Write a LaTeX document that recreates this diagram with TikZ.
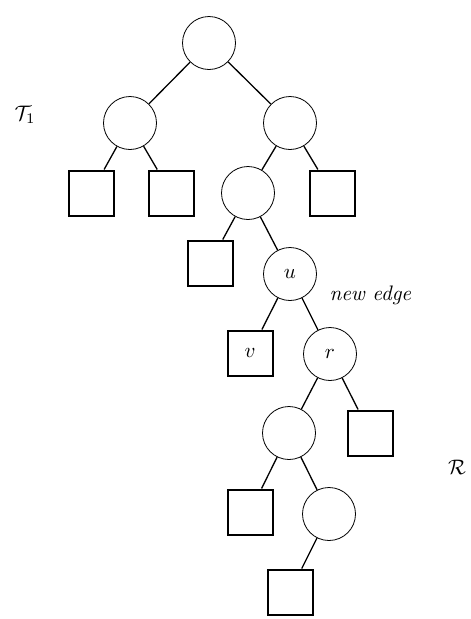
\documentclass[tikz,border=0pt]{standalone}
\newcommand{\bigtxt}[1]{\scalebox{2.1}{#1}}
\begin{document}
\begin{tikzpicture}[x=1pt,y=-1pt,
  cnode/.style={circle,draw,line width=0.8pt,minimum size=53pt,inner sep=0pt},
  snode/.style={rectangle,draw,line width=2pt,minimum size=45pt,inner sep=0pt},
  edge/.style={line width=1.3pt}]
\useasboundingbox (0,0) rectangle (471,619);
\node[cnode] (root) at (209,43) {};
\node[cnode] (a) at (130,123) {};
\node[cnode] (b) at (290,123) {};
\node[snode] (a1) at (91,193) {};
\node[snode] (a2) at (171,193) {};
\node[cnode] (c) at (248,193) {};
\node[snode] (b2) at (332,193) {};
\node[snode] (c1) at (210,263) {};
\node[cnode] (u) at (290,274) {\bigtxt{$u$}};
\node[snode] (v) at (250,353) {\bigtxt{$v$}};
\node[cnode] (r) at (330,354) {\bigtxt{$r$}};
\node[cnode] (d) at (289,433) {};
\node[snode] (r2) at (370,433) {};
\node[snode] (d1) at (250,512) {};
\node[cnode] (e) at (329,514) {};
\node[snode] (e1) at (290,592) {};
\node (T) at (25,115) {\bigtxt{$\mathcal{T}_1$}};
\node (R) at (457,467) {\bigtxt{$\mathcal{R}$}};
\node[anchor=west] (ne) at (326,295) {\bigtxt{\itshape new edge}};
\draw[edge] (root) -- (a);
\draw[edge] (root) -- (b);
\draw[edge] (a) -- (a1);
\draw[edge] (a) -- (a2);
\draw[edge] (b) -- (c);
\draw[edge] (b) -- (b2);
\draw[edge] (c) -- (c1);
\draw[edge] (c) -- (u);
\draw[edge] (u) -- (v);
\draw[edge] (u) -- (r);
\draw[edge] (r) -- (d);
\draw[edge] (r) -- (r2);
\draw[edge] (d) -- (d1);
\draw[edge] (d) -- (e);
\draw[edge] (e) -- (e1);
\end{tikzpicture}
\end{document}
